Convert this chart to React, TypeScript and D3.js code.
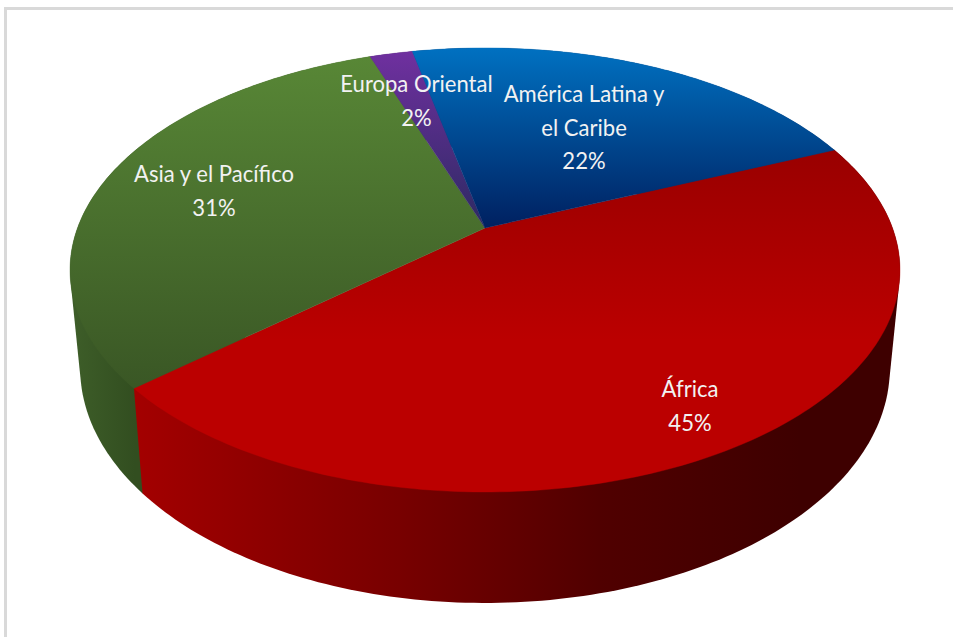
import * as d3 from "d3";

// Share of the total by region, clockwise from the first slice
const regions = ["África", "Asia y el Pacífico", "Europa Oriental", "América Latina y el Caribe"];
const shares = [45, 31, 2, 22];
const labelLines = [
  ["África", "45%"],
  ["Asia y el Pacífico", "31%"],
  ["Europa Oriental", "2%"],
  ["América Latina y", "el Caribe", "22%"],
];

const W = 953;
const H = 637;
const TAU = Math.PI * 2;
const FIRST_SLICE = (67 / 360) * TAU;

// Perspective view of the pie disc: unit circle (u, v) to the screen
const CX = 485;
const CENTRE_Y = 228;
const PERSPECTIVE = -0.189;
const projectTop = (a: number): [number, number] => {
  const u = Math.sin(a);
  const v = -Math.cos(a);
  const w = 1 + PERSPECTIVE * v;
  return [CX + (407.5 * u) / w, (171 * v + CENTRE_Y) / w];
};
const projectBottom = (a: number): [number, number] => {
  const u = Math.sin(a);
  const v = -Math.cos(a);
  const w = 1 + PERSPECTIVE * v;
  return [CX + (397.5 * u) / w, (165 * v + 324) / w];
};

const topGradients = [
  { id: "top-0", y1: 148, y2: 340, from: "#990000", to: "#bb0000" },
  { id: "top-1", y1: 57, y2: 385, from: "#588736", to: "#3a5725" },
  { id: "top-2", y1: 50, y2: 228, from: "#7030a0", to: "#2c2a62" },
  { id: "top-3", y1: 50, y2: 228, from: "#0070c0", to: "#002060" },
];

// Side wall shading runs along the screen x, dark towards the right
const wallGradients = [
  {
    id: "wall-0",
    x1: 131,
    x2: 800,
    stops: ["#a40000", "#880000", "#780000", "#640000", "#500000", "#3e0000"],
    at: [0, 0.25, 0.4, 0.55, 0.7, 1],
  },
  { id: "wall-1", x1: 70, x2: 135, stops: ["#3e5e29", "#324e20"], at: [0, 1] },
  { id: "wall-2", x1: 0, x2: 953, stops: ["#3a1a55", "#3a1a55"], at: [0, 1] },
  { id: "wall-3", x1: 0, x2: 953, stops: ["#002a60", "#002a60"], at: [0, 1] },
];

const labelAnchors = [
  { x: 690, y: 397 },
  { x: 214, y: 182 },
  { x: 416.5, y: 92 },
  { x: 584, y: 102 },
];

const arcs = d3
  .pie<number>()
  .sort(null)
  .startAngle(FIRST_SLICE)
  .endAngle(FIRST_SLICE + TAU)(shares);

const line = d3.line();
const STEP = (1 / 360) * TAU;

function angleSamples(start: number, end: number) {
  const n = Math.max(2, Math.ceil((end - start) / STEP));
  return d3.range(n + 1).map((i) => start + ((end - start) * i) / n);
}

export default function App() {
  const centre: [number, number] = [CX, CENTRE_Y];
  return (
    <svg
      width={W}
      height={H}
      viewBox={`0 0 ${W} ${H}`}
      style={{ position: "absolute", left: 0, top: 0, background: "#fff" }}
    >
      <defs>
        {topGradients.map((g) => (
          <linearGradient key={g.id} id={g.id} gradientUnits="userSpaceOnUse" x1={0} x2={0} y1={g.y1} y2={g.y2}>
            <stop offset="0" stopColor={g.from} />
            <stop offset="1" stopColor={g.to} />
          </linearGradient>
        ))}
        {wallGradients.map((g) => (
          <linearGradient key={g.id} id={g.id} gradientUnits="userSpaceOnUse" x1={g.x1} x2={g.x2} y1={0} y2={0}>
            {g.stops.map((c, k) => (
              <stop key={k} offset={g.at[k]} stopColor={c} />
            ))}
          </linearGradient>
        ))}
      </defs>

      <path d={`M5.5,${H}V8.5H${W}`} fill="none" stroke="#d9d9d9" strokeWidth={3} />

      {/* Each wall is the hull of its two rims; África goes last so it overlaps the others */}
      {arcs
        .slice()
        .reverse()
        .map((arc) => {
          const samples = angleSamples(arc.startAngle, arc.endAngle);
          const hull = d3.polygonHull([...samples.map(projectTop), ...samples.map(projectBottom)]) as [number, number][];
          return <path key={`wall-${regions[arc.index]}`} d={`${line(hull)}Z`} fill={`url(#wall-${arc.index})`} />;
        })}

      {arcs.map((arc, i) => {
        const rim = angleSamples(arc.startAngle, arc.endAngle).map(projectTop);
        return (
          <path
            key={`top-${regions[i]}`}
            d={`${line([centre, ...rim])}Z`}
            fill={`url(#top-${i})`}
            stroke={`url(#top-${i})`}
            strokeWidth={0.4}
          />
        );
      })}

      {labelLines.map((lines, i) => (
        <g key={regions[i]}>
          {lines.map((t, k) => (
            <text
              key={t}
              transform={`translate(${labelAnchors[i].x},${labelAnchors[i].y + k * 33.5}) scale(0.92,1)`}
              textAnchor="middle"
              fontFamily="Lato, 'Open Sans', sans-serif"
              fontSize={24}
              fill="#f2f2f2"
            >
              {t}
            </text>
          ))}
        </g>
      ))}
    </svg>
  );
}
